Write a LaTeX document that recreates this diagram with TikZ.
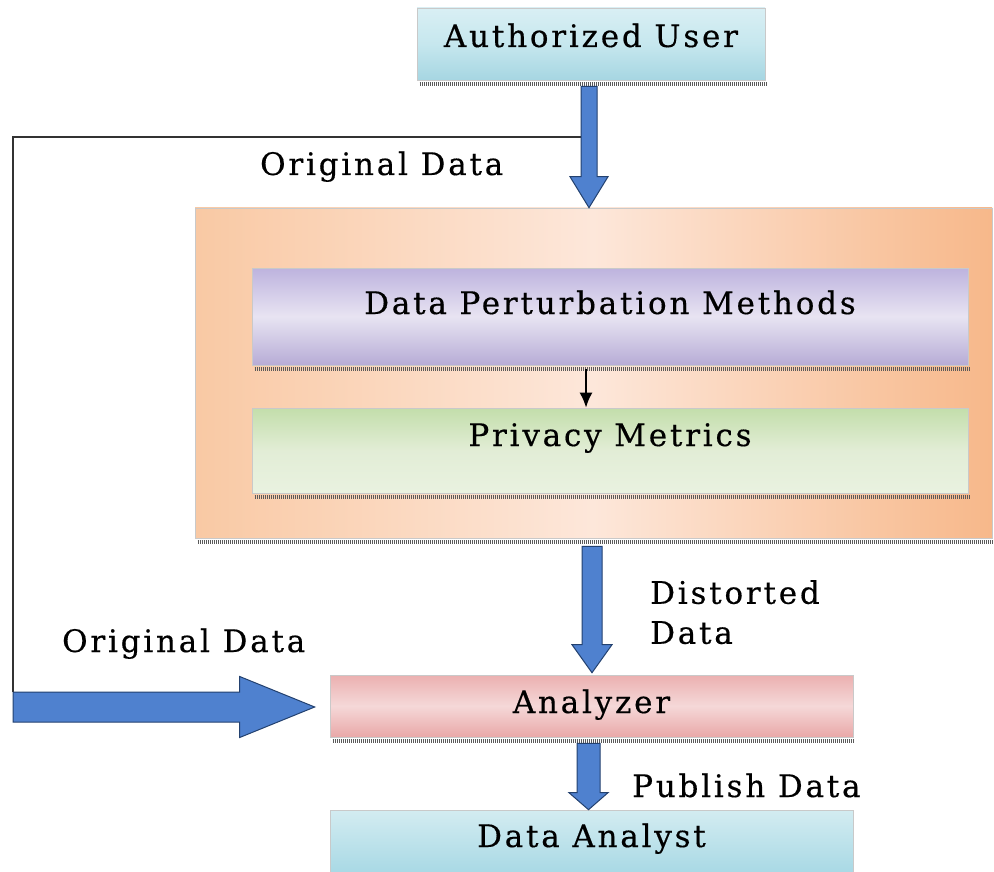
\documentclass[tikz,border=0pt]{standalone}
\usepackage{fontspec}
\usetikzlibrary{calc,arrows.meta}
\newfontfamily\dfont[LetterSpace=9,FakeBold=0.4]{DejaVu Serif}
\definecolor{arrowblue}{HTML}{4F81CF}
\definecolor{arrowedge}{HTML}{23416F}
\definecolor{shadowgray}{HTML}{5A5A5A}
\definecolor{edgegray}{HTML}{C9C9C9}
\definecolor{auT}{HTML}{D9EFF4}\definecolor{auM}{HTML}{C6E7EE}\definecolor{auB}{HTML}{A6D6E2}
\definecolor{orL}{HTML}{F9C9A4}\definecolor{orM}{HTML}{FDE7DA}\definecolor{orR}{HTML}{F7B88A}
\definecolor{dpT}{HTML}{BDB3DE}\definecolor{dpM}{HTML}{E8E4F2}\definecolor{dpB}{HTML}{B7ACD6}
\definecolor{pmT}{HTML}{C3DEAB}\definecolor{pmM}{HTML}{E2EDD6}\definecolor{pmB}{HTML}{E9F2E0}
\definecolor{anT}{HTML}{EBB0B0}\definecolor{anM}{HTML}{F5D8D8}\definecolor{anB}{HTML}{E9A8A8}
\definecolor{daT}{HTML}{D3ECF1}\definecolor{daB}{HTML}{A9D9E5}
\tikzset{
  box/.style={draw=edgegray, line width=0.6pt, inner sep=0pt, text height=0pt, text depth=0pt,
    font=\dfont\fontsize{31}{40}\selectfont},
  lbl/.style={inner sep=0pt, font=\dfont\fontsize{31}{40}\selectfont},
  blockarrow/.style={fill=arrowblue, draw=arrowedge, line width=1pt, line join=miter},
  loopline/.style={draw=black!80, line width=1.8pt},
  thinarrow/.style={draw=black, line width=2pt, -{Latex[length=15pt,width=13pt]}},
  boxshadow/.style={draw=shadowgray, line width=4pt, dash pattern=on 1pt off 1pt},
}
\newcommand\blockdown[6]{%
  \draw[blockarrow] let \p1=(#1), \p2=(#2), \p3=(#3) in
    (\x3-#4pt,\y1) -- (\x3-#4pt,\y2+#6pt) -- (\x3-#5pt,\y2+#6pt) -- (\x3,\y2)
    -- (\x3+#5pt,\y2+#6pt) -- (\x3+#4pt,\y2+#6pt) -- (\x3+#4pt,\y1) -- cycle;}
\newcommand\boxshade[1]{%
  \draw[boxshadow] ($(#1.south west)+(3,3.5)$) -- ($(#1.south east)+(1,3.5)$);}
\begin{document}
\begin{tikzpicture}[x=1pt,y=-1pt]
\useasboundingbox (0,0) rectangle (994,872);
\clip (0,0) rectangle (994,872);

% boxes
\node[box, minimum width=348, minimum height=72,
  top color=auT, bottom color=auB, middle color=auM]
  (au) at (591,44) {\raisebox{-3pt}{Authorized User}};
\node[box, minimum width=797, minimum height=330, shading angle=15,
  left color=orL, right color=orR, middle color=orM]
  (org) at (593.5,373) {};
\node[box, minimum width=716, minimum height=97,
  top color=dpT, bottom color=dpB, middle color=dpM]
  (dpm) at (610,316.5) {\raisebox{2.5pt}{Data Perturbation Methods}};
\node[box, minimum width=716, minimum height=85,
  top color=pmT, bottom color=pmB, middle color=pmM]
  (pm) at (610,450.5) {\raisebox{4.5pt}{Privacy Metrics}};
\node[box, minimum width=523, minimum height=62,
  top color=anT, bottom color=anB, middle color=anM]
  (an) at (591.5,706) {\raisebox{-7pt}{Analyzer}};
\node[box, minimum width=523, minimum height=62,
  top color=daT, bottom color=daB]
  (da) at (591.5,841) {\raisebox{-6pt}{Data Analyst}};

% shadows
\boxshade{au}
\boxshade{org}
\boxshade{dpm}
\boxshade{pm}
\boxshade{an}

% axis coordinates
\coordinate (ax1) at (589,0);
\coordinate (ax2) at (586,0);
\coordinate (ax3) at (592,0);
\coordinate (ax4) at (588.5,0);
\coordinate (tap) at (581,137);
\coordinate (lb) at (13,707);

% loop line and arrows
\draw[loopline] (tap) -| ($(lb)+(0,-15)$);
\blockdown{$(au.south)+(0,6)$}{org.north}{ax1}{8}{19}{31}
\draw[thinarrow] ($(dpm.south -| ax2)+(0,4)$) -- (pm.north -| ax2);
\blockdown{$(org.south)+(0,8)$}{$(an.north)+(0,-2)$}{ax3}{10}{20}{28}
\blockdown{$(an.south)+(0,6)$}{da.north}{ax4}{11.5}{19.5}{17}
\draw[blockarrow] let \p1=(lb), \p2=($(an.west)+(-15,0)$) in
  (\x1,\y1+15pt) -- (\x2-75pt,\y1+15pt) -- (\x2-75pt,\y1+30.5pt) -- (\x2,\y1)
  -- (\x2-75pt,\y1-30.5pt) -- (\x2-75pt,\y1-15pt) -- (\x1,\y1-15pt) -- cycle;

% labels
\node[lbl, anchor=base west] (od1) at (260,175) {Original Data};
\node[lbl, anchor=base west] (od2) at (62,652) {Original Data};
\node[lbl, anchor=north west, align=left] (dd) at (650,580) {Distorted\\Data};
\node[lbl, anchor=base west] (pd) at (632,797) {Publish Data};
\end{tikzpicture}
\end{document}
